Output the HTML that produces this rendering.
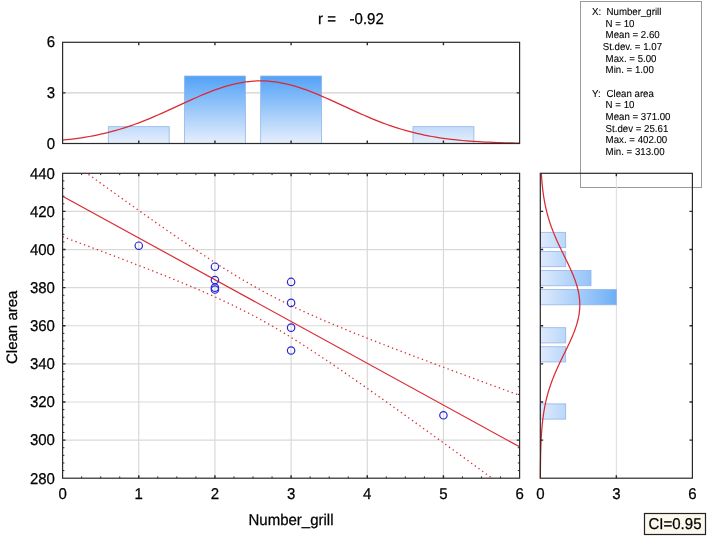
<!DOCTYPE html>
<html><head><meta charset="utf-8"><title>Scatterplot</title>
<style>
html,body{margin:0;padding:0;background:#fff}
body{width:708px;height:542px;position:relative;overflow:hidden;font-family:"Liberation Sans",sans-serif;color:#000}
.t{position:absolute;-webkit-text-stroke:0.25px #000;text-rendering:geometricPrecision;white-space:pre;line-height:1.149;font-family:"Liberation Sans",sans-serif;color:#000}
#tx{position:absolute;left:0;top:0;width:708px;height:542px;will-change:transform}
</style></head><body>
<svg width="708" height="542" viewBox="0 0 708 542" style="position:absolute;left:0;top:0">
<defs>
<linearGradient id="gv" gradientUnits="userSpaceOnUse" x1="0" y1="143.5" x2="0" y2="76.03"><stop offset="0" stop-color="#e6effc"/><stop offset="1" stop-color="#52a2f7"/></linearGradient>
<linearGradient id="gh" gradientUnits="userSpaceOnUse" x1="540.3" y1="0" x2="616.35" y2="0"><stop offset="0" stop-color="#dfebfc"/><stop offset="1" stop-color="#6eaff7"/></linearGradient>
<clipPath id="cm"><rect x="62.6" y="173.3" width="457" height="304.9"/></clipPath>
</defs>
<rect x="580.5" y="1.5" width="121" height="186" fill="none" stroke="#9a9a9a" stroke-width="1"/>
<line x1="62.6" x2="519.6" y1="92.9" y2="92.9" stroke="#d2d2d2" stroke-width="1.4"/>
<rect x="108.3" y="126.63" width="60.93" height="16.87" fill="url(#gv)" stroke="#8fb2e8" stroke-opacity="0.85" stroke-width="0.9"/>
<rect x="184.47" y="76.03" width="60.93" height="67.47" fill="url(#gv)" stroke="#8fb2e8" stroke-opacity="0.85" stroke-width="0.9"/>
<rect x="260.63" y="76.03" width="60.93" height="67.47" fill="url(#gv)" stroke="#8fb2e8" stroke-opacity="0.85" stroke-width="0.9"/>
<rect x="412.97" y="126.63" width="60.93" height="16.87" fill="url(#gv)" stroke="#8fb2e8" stroke-opacity="0.85" stroke-width="0.9"/>
<polyline points="62.6,140.14 66.41,139.74 70.22,139.31 74.03,138.84 77.83,138.32 81.64,137.76 85.45,137.15 89.26,136.5 93.07,135.79 96.88,135.03 100.68,134.21 104.49,133.34 108.3,132.41 112.11,131.42 115.92,130.37 119.72,129.26 123.53,128.09 127.34,126.86 131.15,125.57 134.96,124.23 138.77,122.82 142.58,121.37 146.38,119.86 150.19,118.3 154,116.69 157.81,115.05 161.62,113.37 165.43,111.66 169.23,109.93 173.04,108.18 176.85,106.42 180.66,104.65 184.47,102.89 188.28,101.14 192.08,99.41 195.89,97.71 199.7,96.05 203.51,94.43 207.32,92.86 211.12,91.36 214.93,89.93 218.74,88.58 222.55,87.32 226.36,86.16 230.17,85.09 233.97,84.14 237.78,83.3 241.59,82.57 245.4,81.98 249.21,81.51 253.02,81.17 256.83,80.97 260.63,80.9 264.44,80.97 268.25,81.17 272.06,81.51 275.87,81.98 279.68,82.57 283.48,83.3 287.29,84.14 291.1,85.09 294.91,86.16 298.72,87.32 302.53,88.58 306.33,89.93 310.14,91.36 313.95,92.86 317.76,94.43 321.57,96.05 325.38,97.71 329.18,99.41 332.99,101.14 336.8,102.89 340.61,104.65 344.42,106.42 348.23,108.18 352.03,109.93 355.84,111.66 359.65,113.37 363.46,115.05 367.27,116.69 371.07,118.3 374.88,119.86 378.69,121.37 382.5,122.82 386.31,124.23 390.12,125.57 393.93,126.86 397.73,128.09 401.54,129.26 405.35,130.37 409.16,131.42 412.97,132.41 416.78,133.34 420.58,134.21 424.39,135.03 428.2,135.79 432.01,136.5 435.82,137.15 439.63,137.76 443.43,138.32 447.24,138.84 451.05,139.31 454.86,139.74 458.67,140.14 462.48,140.5 466.28,140.83 470.09,141.13 473.9,141.39 477.71,141.64 481.52,141.85 485.33,142.05 489.13,142.23 492.94,142.38 496.75,142.52 500.56,142.65 504.37,142.75 508.18,142.85 511.98,142.94 515.79,143.01 519.6,143.08" fill="none" stroke="#dc2a32" stroke-width="1.25"/>
<rect x="62.6" y="42.3" width="457" height="101.2" fill="none" stroke="#2a2a2a" stroke-width="1.2"/>
<path d="M138.77 42.3v2.9M138.77 143.5v-2.9M214.93 42.3v2.9M214.93 143.5v-2.9M291.1 42.3v2.9M291.1 143.5v-2.9M367.27 42.3v2.9M367.27 143.5v-2.9M443.43 42.3v2.9M443.43 143.5v-2.9M62.6 92.9h2.9M519.6 92.9h-2.9" stroke="#2a2a2a" stroke-width="1.4" fill="none"/>
<path d="M138.77 173.3V478.2M214.93 173.3V478.2M291.1 173.3V478.2M367.27 173.3V478.2M443.43 173.3V478.2M62.6 440.09H519.6M62.6 401.98H519.6M62.6 363.86H519.6M62.6 325.75H519.6M62.6 287.64H519.6M62.6 249.53H519.6M62.6 211.41H519.6" stroke="#d9d9d9" stroke-width="1.2" fill="none"/>
<g clip-path="url(#cm)">
<line x1="62.6" y1="196.17" x2="519.6" y2="446.83" stroke="#dc2a32" stroke-width="1.2"/>
<polyline points="62.6,236.66 66.41,238.07 70.22,239.49 74.03,240.91 77.83,242.33 81.64,243.75 85.45,245.18 89.26,246.6 93.07,248.03 96.88,249.47 100.68,250.9 104.49,252.34 108.3,253.78 112.11,255.23 115.92,256.67 119.72,258.13 123.53,259.58 127.34,261.04 131.15,262.51 134.96,263.98 138.77,265.45 142.58,266.93 146.38,268.42 150.19,269.91 154,271.41 157.81,272.92 161.62,274.43 165.43,275.95 169.23,277.49 173.04,279.03 176.85,280.58 180.66,282.14 184.47,283.72 188.28,285.31 192.08,286.91 195.89,288.52 199.7,290.16 203.51,291.81 207.32,293.48 211.12,295.17 214.93,296.88 218.74,298.61 222.55,300.37 226.36,302.15 230.17,303.96 233.97,305.8 237.78,307.67 241.59,309.57 245.4,311.5 249.21,313.47 253.02,315.47 256.83,317.5 260.63,319.57 264.44,321.68 268.25,323.82 272.06,326 275.87,328.21 279.68,330.45 283.48,332.73 287.29,335.04 291.1,337.38 294.91,339.75 298.72,342.14 302.53,344.56 306.33,347.01 310.14,349.48 313.95,351.96 317.76,354.47 321.57,357 325.38,359.55 329.18,362.11 332.99,364.68 336.8,367.27 340.61,369.87 344.42,372.49 348.23,375.11 352.03,377.75 355.84,380.4 359.65,383.05 363.46,385.72 367.27,388.39 371.07,391.06 374.88,393.75 378.69,396.44 382.5,399.14 386.31,401.84 390.12,404.55 393.93,407.26 397.73,409.98 401.54,412.7 405.35,415.43 409.16,418.16 412.97,420.89 416.78,423.63 420.58,426.36 424.39,429.11 428.2,431.85 432.01,434.6 435.82,437.35 439.63,440.1 443.43,442.86 447.24,445.61 451.05,448.37 454.86,451.13 458.67,453.9 462.48,456.66 466.28,459.43 470.09,462.2 473.9,464.97 477.71,467.74 481.52,470.51 485.33,473.28 489.13,476.06 492.94,478.83 496.75,481.61 500.56,484.39 504.37,487.17 508.18,489.95 511.98,492.73 515.79,495.51 519.6,498.29" fill="none" stroke="#dc2a32" stroke-width="1.3" stroke-dasharray="1.35 3.21"/>
<polyline points="62.6,155.68 66.41,158.44 70.22,161.2 74.03,163.96 77.83,166.72 81.64,169.47 85.45,172.23 89.26,174.98 93.07,177.72 96.88,180.47 100.68,183.21 104.49,185.95 108.3,188.69 112.11,191.42 115.92,194.15 119.72,196.88 123.53,199.6 127.34,202.31 131.15,205.03 134.96,207.74 138.77,210.44 142.58,213.14 146.38,215.83 150.19,218.51 154,221.19 157.81,223.86 161.62,226.52 165.43,229.18 169.23,231.83 173.04,234.46 176.85,237.09 180.66,239.7 184.47,242.3 188.28,244.89 192.08,247.47 195.89,250.03 199.7,252.58 203.51,255.1 207.32,257.61 211.12,260.1 214.93,262.57 218.74,265.01 222.55,267.43 226.36,269.83 230.17,272.2 233.97,274.54 237.78,276.84 241.59,279.12 245.4,281.37 249.21,283.58 253.02,285.76 256.83,287.9 260.63,290 264.44,292.07 268.25,294.11 272.06,296.11 275.87,298.08 279.68,300.01 283.48,301.91 287.29,303.78 291.1,305.62 294.91,307.43 298.72,309.21 302.53,310.97 306.33,312.7 310.14,314.41 313.95,316.1 317.76,317.77 321.57,319.42 325.38,321.05 329.18,322.67 332.99,324.27 336.8,325.86 340.61,327.43 344.42,329 348.23,330.55 352.03,332.09 355.84,333.62 359.65,335.14 363.46,336.66 367.27,338.17 371.07,339.67 374.88,341.16 378.69,342.64 382.5,344.12 386.31,345.6 390.12,347.07 393.93,348.53 397.73,349.99 401.54,351.45 405.35,352.9 409.16,354.35 412.97,355.8 416.78,357.24 420.58,358.68 424.39,360.11 428.2,361.54 432.01,362.97 435.82,364.4 439.63,365.83 443.43,367.25 447.24,368.67 451.05,370.09 454.86,371.5 458.67,372.92 462.48,374.33 466.28,375.74 470.09,377.15 473.9,378.56 477.71,379.97 481.52,381.38 485.33,382.78 489.13,384.18 492.94,385.59 496.75,386.99 500.56,388.39 504.37,389.78 508.18,391.18 511.98,392.58 515.79,393.97 519.6,395.37" fill="none" stroke="#dc2a32" stroke-width="1.3" stroke-dasharray="1.35 3.21"/>
</g>
<circle cx="138.77" cy="245.71" r="3.7" fill="none" stroke="#2828d8" stroke-width="1.2"/>
<circle cx="214.93" cy="266.68" r="3.7" fill="none" stroke="#2828d8" stroke-width="1.2"/>
<circle cx="214.93" cy="280.01" r="3.7" fill="none" stroke="#2828d8" stroke-width="1.2"/>
<circle cx="214.93" cy="287.64" r="3.7" fill="none" stroke="#2828d8" stroke-width="1.2"/>
<circle cx="214.93" cy="289.54" r="3.7" fill="none" stroke="#2828d8" stroke-width="1.2"/>
<circle cx="291.1" cy="281.92" r="3.7" fill="none" stroke="#2828d8" stroke-width="1.2"/>
<circle cx="291.1" cy="302.88" r="3.7" fill="none" stroke="#2828d8" stroke-width="1.2"/>
<circle cx="291.1" cy="327.66" r="3.7" fill="none" stroke="#2828d8" stroke-width="1.2"/>
<circle cx="291.1" cy="350.52" r="3.7" fill="none" stroke="#2828d8" stroke-width="1.2"/>
<circle cx="443.43" cy="415.31" r="3.7" fill="none" stroke="#2828d8" stroke-width="1.2"/>
<rect x="62.6" y="173.3" width="457" height="304.9" fill="none" stroke="#2a2a2a" stroke-width="1.2"/>
<path d="M138.77 173.3v2.9M138.77 478.2v-2.9M214.93 173.3v2.9M214.93 478.2v-2.9M291.1 173.3v2.9M291.1 478.2v-2.9M367.27 173.3v2.9M367.27 478.2v-2.9M443.43 173.3v2.9M443.43 478.2v-2.9M62.6 440.09h2.9M519.6 440.09h-2.9M62.6 401.98h2.9M519.6 401.98h-2.9M62.6 363.86h2.9M519.6 363.86h-2.9M62.6 325.75h2.9M519.6 325.75h-2.9M62.6 287.64h2.9M519.6 287.64h-2.9M62.6 249.53h2.9M519.6 249.53h-2.9M62.6 211.41h2.9M519.6 211.41h-2.9" stroke="#2a2a2a" stroke-width="1.4" fill="none"/>
<path d="M81.64 173.3v1.8M81.64 478.2v-1.8M100.68 173.3v1.8M100.68 478.2v-1.8M119.72 173.3v1.8M119.72 478.2v-1.8M157.81 173.3v1.8M157.81 478.2v-1.8M176.85 173.3v1.8M176.85 478.2v-1.8M195.89 173.3v1.8M195.89 478.2v-1.8M233.97 173.3v1.8M233.97 478.2v-1.8M253.02 173.3v1.8M253.02 478.2v-1.8M272.06 173.3v1.8M272.06 478.2v-1.8M310.14 173.3v1.8M310.14 478.2v-1.8M329.18 173.3v1.8M329.18 478.2v-1.8M348.23 173.3v1.8M348.23 478.2v-1.8M386.31 173.3v1.8M386.31 478.2v-1.8M405.35 173.3v1.8M405.35 478.2v-1.8M424.39 173.3v1.8M424.39 478.2v-1.8M462.48 173.3v1.8M462.48 478.2v-1.8M481.52 173.3v1.8M481.52 478.2v-1.8M500.56 173.3v1.8M500.56 478.2v-1.8M62.6 470.58h1.8M519.6 470.58h-1.8M62.6 462.95h1.8M519.6 462.95h-1.8M62.6 455.33h1.8M519.6 455.33h-1.8M62.6 447.71h1.8M519.6 447.71h-1.8M62.6 432.46h1.8M519.6 432.46h-1.8M62.6 424.84h1.8M519.6 424.84h-1.8M62.6 417.22h1.8M519.6 417.22h-1.8M62.6 409.6h1.8M519.6 409.6h-1.8M62.6 394.35h1.8M519.6 394.35h-1.8M62.6 386.73h1.8M519.6 386.73h-1.8M62.6 379.11h1.8M519.6 379.11h-1.8M62.6 371.49h1.8M519.6 371.49h-1.8M62.6 356.24h1.8M519.6 356.24h-1.8M62.6 348.62h1.8M519.6 348.62h-1.8M62.6 341h1.8M519.6 341h-1.8M62.6 333.37h1.8M519.6 333.37h-1.8M62.6 318.13h1.8M519.6 318.13h-1.8M62.6 310.5h1.8M519.6 310.5h-1.8M62.6 302.88h1.8M519.6 302.88h-1.8M62.6 295.26h1.8M519.6 295.26h-1.8M62.6 280.01h1.8M519.6 280.01h-1.8M62.6 272.39h1.8M519.6 272.39h-1.8M62.6 264.77h1.8M519.6 264.77h-1.8M62.6 257.15h1.8M519.6 257.15h-1.8M62.6 241.9h1.8M519.6 241.9h-1.8M62.6 234.28h1.8M519.6 234.28h-1.8M62.6 226.66h1.8M519.6 226.66h-1.8M62.6 219.04h1.8M519.6 219.04h-1.8M62.6 203.79h1.8M519.6 203.79h-1.8M62.6 196.17h1.8M519.6 196.17h-1.8M62.6 188.55h1.8M519.6 188.55h-1.8M62.6 180.92h1.8M519.6 180.92h-1.8" stroke="#2a2a2a" stroke-width="1" fill="none"/>
<line x1="616.35" x2="616.35" y1="173.3" y2="478.2" stroke="#dcdcdc" stroke-width="1"/>
<rect x="540.3" y="232.37" width="25.35" height="15.24" fill="url(#gh)" stroke="#8fb2e8" stroke-opacity="0.85" stroke-width="0.9"/>
<rect x="540.3" y="251.43" width="25.35" height="15.24" fill="url(#gh)" stroke="#8fb2e8" stroke-opacity="0.85" stroke-width="0.9"/>
<rect x="540.3" y="270.49" width="50.7" height="15.25" fill="url(#gh)" stroke="#8fb2e8" stroke-opacity="0.85" stroke-width="0.9"/>
<rect x="540.3" y="289.54" width="76.05" height="15.25" fill="url(#gh)" stroke="#8fb2e8" stroke-opacity="0.85" stroke-width="0.9"/>
<rect x="540.3" y="327.66" width="25.35" height="15.25" fill="url(#gh)" stroke="#8fb2e8" stroke-opacity="0.85" stroke-width="0.9"/>
<rect x="540.3" y="346.71" width="25.35" height="15.25" fill="url(#gh)" stroke="#8fb2e8" stroke-opacity="0.85" stroke-width="0.9"/>
<rect x="540.3" y="403.88" width="25.35" height="15.25" fill="url(#gh)" stroke="#8fb2e8" stroke-opacity="0.85" stroke-width="0.9"/>
<polyline points="540.37,478.2 540.38,476.29 540.39,474.39 540.41,472.48 540.42,470.58 540.44,468.67 540.46,466.77 540.48,464.86 540.51,462.95 540.53,461.05 540.57,459.14 540.6,457.24 540.64,455.33 540.68,453.43 540.73,451.52 540.78,449.62 540.84,447.71 540.91,445.8 540.98,443.9 541.06,441.99 541.15,440.09 541.24,438.18 541.35,436.28 541.46,434.37 541.59,432.46 541.73,430.56 541.88,428.65 542.04,426.75 542.22,424.84 542.41,422.94 542.62,421.03 542.84,419.13 543.08,417.22 543.34,415.31 543.62,413.41 543.92,411.5 544.24,409.6 544.58,407.69 544.94,405.79 545.33,403.88 545.74,401.98 546.17,400.07 546.63,398.16 547.12,396.26 547.63,394.35 548.17,392.45 548.74,390.54 549.33,388.64 549.95,386.73 550.59,384.82 551.26,382.92 551.96,381.01 552.69,379.11 553.44,377.2 554.21,375.3 555,373.39 555.82,371.49 556.66,369.58 557.52,367.67 558.39,365.77 559.28,363.86 560.18,361.96 561.1,360.05 562.02,358.15 562.95,356.24 563.89,354.33 564.82,352.43 565.75,350.52 566.68,348.62 567.6,346.71 568.51,344.81 569.41,342.9 570.29,341 571.15,339.09 571.98,337.18 572.79,335.28 573.56,333.37 574.31,331.47 575.01,329.56 575.68,327.66 576.31,325.75 576.89,323.84 577.42,321.94 577.91,320.03 578.34,318.13 578.72,316.22 579.04,314.32 579.31,312.41 579.52,310.5 579.67,308.6 579.76,306.69 579.79,304.79 579.76,302.88 579.67,300.98 579.52,299.07 579.31,297.17 579.04,295.26 578.72,293.35 578.34,291.45 577.91,289.54 577.42,287.64 576.89,285.73 576.31,283.83 575.68,281.92 575.01,280.01 574.31,278.11 573.56,276.2 572.79,274.3 571.98,272.39 571.15,270.49 570.29,268.58 569.41,266.68 568.51,264.77 567.6,262.86 566.68,260.96 565.75,259.05 564.82,257.15 563.89,255.24 562.95,253.34 562.02,251.43 561.1,249.53 560.18,247.62 559.28,245.71 558.39,243.81 557.52,241.9 556.66,240 555.82,238.09 555,236.19 554.21,234.28 553.44,232.37 552.69,230.47 551.96,228.56 551.26,226.66 550.59,224.75 549.95,222.85 549.33,220.94 548.74,219.04 548.17,217.13 547.63,215.22 547.12,213.32 546.63,211.41 546.17,209.51 545.74,207.6 545.33,205.7 544.94,203.79 544.58,201.88 544.24,199.98 543.92,198.07 543.62,196.17 543.34,194.26 543.08,192.36 542.84,190.45 542.62,188.55 542.41,186.64 542.22,184.73 542.04,182.83 541.88,180.92 541.73,179.02 541.59,177.11 541.46,175.21 541.35,173.3" fill="none" stroke="#dc2a32" stroke-width="1.25"/>
<rect x="540.3" y="173.3" width="152.1" height="304.9" fill="none" stroke="#2a2a2a" stroke-width="1.2"/>
<path d="M540.3 440.09h2.9M692.4 440.09h-2.9M540.3 401.98h2.9M692.4 401.98h-2.9M540.3 363.86h2.9M692.4 363.86h-2.9M540.3 325.75h2.9M692.4 325.75h-2.9M540.3 287.64h2.9M692.4 287.64h-2.9M540.3 249.53h2.9M692.4 249.53h-2.9M540.3 211.41h2.9M692.4 211.41h-2.9M616.35 173.3v2.9M616.35 478.2v-2.9" stroke="#2a2a2a" stroke-width="1.4" fill="none"/>
<rect x="644.5" y="513.5" width="61" height="21" fill="#fbf9ee" stroke="#222" stroke-width="1.2"/>
</svg>
<div id="tx">
<div class="t" style="right:653px;top:136px;font-size:15px;transform:scaleY(1.04);transform-origin:0 13px;">0</div>
<div class="t" style="right:653px;top:85px;font-size:15px;transform:scaleY(1.04);transform-origin:0 13px;">3</div>
<div class="t" style="right:653px;top:34px;font-size:15px;transform:scaleY(1.04);transform-origin:0 13px;">6</div>
<div class="t" style="right:653.1px;top:471px;font-size:15px;transform:scaleY(1.04);transform-origin:0 13px;">280</div>
<div class="t" style="right:653.1px;top:432px;font-size:15px;transform:scaleY(1.04);transform-origin:0 13px;">300</div>
<div class="t" style="right:653.1px;top:394px;font-size:15px;transform:scaleY(1.04);transform-origin:0 13px;">320</div>
<div class="t" style="right:653.1px;top:356px;font-size:15px;transform:scaleY(1.04);transform-origin:0 13px;">340</div>
<div class="t" style="right:653.1px;top:318px;font-size:15px;transform:scaleY(1.04);transform-origin:0 13px;">360</div>
<div class="t" style="right:653.1px;top:280px;font-size:15px;transform:scaleY(1.04);transform-origin:0 13px;">380</div>
<div class="t" style="right:653.1px;top:242px;font-size:15px;transform:scaleY(1.04);transform-origin:0 13px;">400</div>
<div class="t" style="right:653.1px;top:204px;font-size:15px;transform:scaleY(1.04);transform-origin:0 13px;">420</div>
<div class="t" style="right:653.1px;top:166px;font-size:15px;transform:scaleY(1.04);transform-origin:0 13px;">440</div>
<div class="t" style="left:-37.4px;width:200px;text-align:center;top:486px;font-size:15px;transform:scaleY(1.04);transform-origin:0 13px;">0</div>
<div class="t" style="left:38.77px;width:200px;text-align:center;top:486px;font-size:15px;transform:scaleY(1.04);transform-origin:0 13px;">1</div>
<div class="t" style="left:114.93px;width:200px;text-align:center;top:486px;font-size:15px;transform:scaleY(1.04);transform-origin:0 13px;">2</div>
<div class="t" style="left:191.1px;width:200px;text-align:center;top:486px;font-size:15px;transform:scaleY(1.04);transform-origin:0 13px;">3</div>
<div class="t" style="left:267.27px;width:200px;text-align:center;top:486px;font-size:15px;transform:scaleY(1.04);transform-origin:0 13px;">4</div>
<div class="t" style="left:343.43px;width:200px;text-align:center;top:486px;font-size:15px;transform:scaleY(1.04);transform-origin:0 13px;">5</div>
<div class="t" style="left:419.6px;width:200px;text-align:center;top:486px;font-size:15px;transform:scaleY(1.04);transform-origin:0 13px;">6</div>
<div class="t" style="left:440.3px;width:200px;text-align:center;top:486px;font-size:15px;transform:scaleY(1.04);transform-origin:0 13px;">0</div>
<div class="t" style="left:516.35px;width:200px;text-align:center;top:486px;font-size:15px;transform:scaleY(1.04);transform-origin:0 13px;">3</div>
<div class="t" style="left:592.4px;width:200px;text-align:center;top:486px;font-size:15px;transform:scaleY(1.04);transform-origin:0 13px;">6</div>
<div class="t" style="left:191px;width:200px;text-align:center;top:512px;font-size:15px;transform:scaleY(1.04);transform-origin:0 13px;">Number_grill</div>
<div class="t" style="left:318px;top:11px;font-size:15px;transform:scaleY(1.04);transform-origin:0 13px;">r =</div>
<div class="t" style="left:349.6px;top:11px;font-size:15px;transform:scaleY(1.04);transform-origin:0 13px;">-0.92</div>
<div class="t" style="left:575px;width:200px;text-align:center;top:516px;font-size:15px;transform:scaleY(1.04);transform-origin:0 13px;">CI=0.95</div>
<div class="t" style="left:-88.1px;top:318.73px;width:200px;text-align:center;font-size:15px;transform:rotate(-90deg);transform-origin:100px 8.28px">Clean area</div>
<div class="t" style="left:592px;top:7px;font-size:9.7px;transform:scaleY(1.04);transform-origin:0 8px;-webkit-text-stroke-width:0.1px">X:</div>
<div class="t" style="left:606.5px;top:7px;font-size:9.7px;transform:scaleY(1.04);transform-origin:0 8px;-webkit-text-stroke-width:0.1px">Number_grill</div>
<div class="t" style="left:605.6px;top:19px;font-size:9.7px;transform:scaleY(1.04);transform-origin:0 8px;-webkit-text-stroke-width:0.1px">N = 10</div>
<div class="t" style="left:605.6px;top:30px;font-size:9.7px;transform:scaleY(1.04);transform-origin:0 8px;-webkit-text-stroke-width:0.1px">Mean = 2.60</div>
<div class="t" style="left:602.7px;top:42px;font-size:9.7px;transform:scaleY(1.04);transform-origin:0 8px;-webkit-text-stroke-width:0.1px">St.dev. = 1.07</div>
<div class="t" style="left:605.6px;top:54px;font-size:9.7px;transform:scaleY(1.04);transform-origin:0 8px;-webkit-text-stroke-width:0.1px">Max. = 5.00</div>
<div class="t" style="left:605.6px;top:65px;font-size:9.7px;transform:scaleY(1.04);transform-origin:0 8px;-webkit-text-stroke-width:0.1px">Min. = 1.00</div>
<div class="t" style="left:592px;top:89px;font-size:9.7px;transform:scaleY(1.04);transform-origin:0 8px;-webkit-text-stroke-width:0.1px">Y:</div>
<div class="t" style="left:606.5px;top:89px;font-size:9.7px;transform:scaleY(1.04);transform-origin:0 8px;-webkit-text-stroke-width:0.1px">Clean area</div>
<div class="t" style="left:605.6px;top:100px;font-size:9.7px;transform:scaleY(1.04);transform-origin:0 8px;-webkit-text-stroke-width:0.1px">N = 10</div>
<div class="t" style="left:605.6px;top:112px;font-size:9.7px;transform:scaleY(1.04);transform-origin:0 8px;-webkit-text-stroke-width:0.1px">Mean = 371.00</div>
<div class="t" style="left:605.6px;top:124px;font-size:9.7px;transform:scaleY(1.04);transform-origin:0 8px;-webkit-text-stroke-width:0.1px">St.dev = 25.61</div>
<div class="t" style="left:605.6px;top:135px;font-size:9.7px;transform:scaleY(1.04);transform-origin:0 8px;-webkit-text-stroke-width:0.1px">Max. = 402.00</div>
<div class="t" style="left:605.6px;top:147px;font-size:9.7px;transform:scaleY(1.04);transform-origin:0 8px;-webkit-text-stroke-width:0.1px">Min. = 313.00</div>
</div>
</body></html>
